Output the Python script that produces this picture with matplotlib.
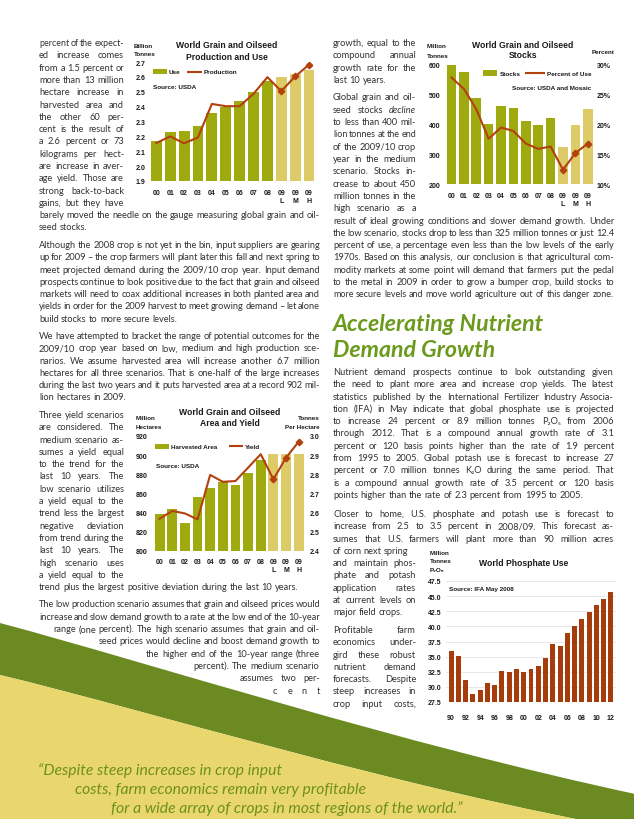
import numpy as np
import matplotlib
matplotlib.use("Agg")
import matplotlib.pyplot as plt
from matplotlib.font_manager import FontProperties
from matplotlib.patches import PathPatch, Rectangle
from matplotlib.path import Path

# ---------------- chart data ----------------
years12 = ['00', '01', '02', '03', '04', '05', '06', '07', '08', '09\nL', '09\nM', '09\nH']
use_vals = [2.166, 2.227, 2.238, 2.267, 2.355, 2.40, 2.436, 2.50, 2.57, 2.596, 2.62, 2.648]
prod_vals = [2.155, 2.20, 2.153, 2.193, 2.418, 2.403, 2.403, 2.486, 2.598, 2.504, 2.603, 2.682]
stocks_vals = [604, 578, 489, 402, 461, 454, 413, 399, 421, 325, 399, 451]
pct_use_vals = [27.9, 26.0, 22.6, 17.6, 19.5, 18.9, 16.8, 15.9, 16.3, 12.4, 15.2, 16.8]
area_vals = [839, 843.5, 829, 856, 865.5, 871.5, 869, 881, 894.5, 901.5, 901.5, 901.5]
yield_vals = [2.568, 2.609, 2.596, 2.565, 2.797, 2.761, 2.765, 2.835, 2.905, 2.774, 2.887, 2.97]
phos_years = ['90', '91', '92', '93', '94', '95', '96', '97', '98', '99', '00', '01',
              '02', '03', '04', '05', '06', '07', '08', '09', '10', '11', '12']
phos_vals = [35.88, 35.17, 31.12, 28.87, 29.47, 30.62, 30.35, 32.6, 32.54, 32.98, 32.43, 33.03,
             33.42, 34.79, 37.14, 36.8, 38.9, 40.1, 41.2, 42.4, 43.5, 44.6, 45.75]

# ---------------- page text ----------------
P1 = ["percent of the expect-", "ed increase comes", "from a 1.5 percent or", "more than 13 million",
      "hectare increase in", "harvested area and", "the other 60 per-", "cent is the result of",
      "a 2.6 percent or 73", "kilograms per hect-", "are increase in aver-", "age yield. Those are",
      "strong back-to-back", "gains, but they have",
      "barely moved the needle on the gauge measuring global grain and oil-", "seed stocks."]
P2 = ["Although the 2008 crop is not yet in the bin, input suppliers are gearing",
      "up for 2009 \u2013 the crop farmers will plant later this fall and next spring to",
      "meet projected demand during the 2009/10 crop year. Input demand",
      "prospects continue to look positive due to the fact that grain and oilseed",
      "markets will need to coax additional increases in both planted area and",
      "yields in order for the 2009 harvest to meet growing demand \u2013 let alone",
      "build stocks to more secure levels."]
P3 = ["We have attempted to bracket the range of potential outcomes for the",
      "2009/10 crop year based on low, medium and high production sce-",
      "narios. We assume harvested area will increase another 6.7 million",
      "hectares for all three scenarios. That is one-half of the large increases",
      "during the last two years and it puts harvested area at a record 902 mil-",
      "lion hectares in 2009."]
P4 = ["Three yield scenarios", "are considered. The", "medium scenario as-", "sumes a yield equal",
      "to the trend for the", "last 10 years. The", "low scenario utilizes", "a yield equal to the",
      "trend less the largest", "negative deviation", "from trend during the", "last 10 years. The",
      "high scenario uses", "a yield equal to the",
      "trend plus the largest positive deviation during the last 10 years."]
P5 = ["The low production scenario assumes that grain and oilseed prices would",
      "increase and slow demand growth to a rate at the low end of the 10-year",
      "range (one percent). The high scenario assumes that grain and oil-",
      "seed prices would decline and boost demand growth to",
      "the higher end of the 10-year range (three",
      "percent). The medium scenario",
      "assumes two per-",
      "c e n t"]
R1 = ["growth, equal to the", "compound annual", "growth rate for the", "last 10 years."]
R2 = ["Global grain and oil-", "seed stocks *decline*", "to less than 400 mil-", "lion tonnes at the end",
      "of the 2009/10 crop", "year in the medium", "scenario. Stocks in-", "crease to about 450",
      "million tonnes in the", "high scenario as a",
      "result of ideal growing conditions and slower demand growth. Under",
      "the low scenario, stocks drop to less than 325 million tonnes or just 12.4",
      "percent of use, a percentage even less than the low levels of the early",
      "1970s. Based on this analysis, our conclusion is that agricultural com-",
      "modity markets at some point will demand that farmers put the pedal",
      "to the metal in 2009 in order to grow a bumper crop, build stocks to",
      "more secure levels and move world agriculture out of this danger zone."]
HEADING = ["Accelerating Nutrient", "Demand Growth"]
R3 = ["Nutrient demand prospects continue to look outstanding given",
      "the need to plant more area and increase crop yields. The latest",
      "statistics published by the International Fertilizer Industry Associa-",
      "tion (IFA) in May indicate that global phosphate use is projected",
      "to increase 24 percent or 8.9 million tonnes P\u2082O\u2085 from 2006",
      "through 2012. That is a compound annual growth rate of 3.1",
      "percent or 120 basis points higher than the rate of 1.9 percent",
      "from 1995 to 2005. Global potash use is forecast to increase 27",
      "percent or 7.0 million tonnes K\u2082O during the same period. That",
      "is a compound annual growth rate of 3.5 percent or 120 basis",
      "points higher than the rate of 2.3 percent from 1995 to 2005."]
R4 = ["Closer to home, U.S. phosphate and potash use is forecast to",
      "increase from 2.5 to 3.5 percent in 2008/09. This forecast as-",
      "sumes that U.S. farmers will plant more than 90 million acres",
      "of corn next spring", "and maintain phos-", "phate and potash", "application rates",
      "at current levels on", "major field crops."]
R5 = ["Profitable farm", "economics under-", "gird these robust", "nutrient demand",
      "forecasts. Despite", "steep increases in", "crop input costs,"]
QUOTE = ["\u201cDespite steep increases in crop input",
         "costs, farm economics remain very profitable",
         "for a wide array of crops in most regions of the world.\u201d"]

# ---------------- style ----------------
W, H = 634, 820
OLIVE = '#9EAA0E'
KHAKI = '#DCCB66'
RUST = '#B3410E'
PHOS = '#A63B0B'
GREEN = '#6B8A22'
YELLOW = '#E9D76D'
HEADC = '#6C9A1D'
QUOTEC = '#6E901F'
TXT = '#333333'
INK = '#1a1a1a'

plt.rcParams['font.family'] = ['Liberation Sans', 'DejaVu Sans']
plt.rcParams['font.weight'] = 'bold'

fig = plt.figure(figsize=(W / 100, H / 100), dpi=100)
fig.patch.set_facecolor('white')
bg = fig.add_axes([0, 0, 1, 1], zorder=0)
bg.set_xlim(0, W)
bg.set_ylim(H, 0)
bg.axis('off')
R = fig.canvas.get_renderer()

BODY = ['Lato', 'DejaVu Sans']


def fp(size, style='normal', weight='normal', fam=BODY):
    return FontProperties(family=fam, size=size, style=style, weight=weight)


def tw(s, prop):
    return R.get_text_width_height_descent(s, prop, ismath=False)[0]


# ---------------- swoosh background ----------------
MV, C4, LT, CL = Path.MOVETO, Path.CURVE4, Path.LINETO, Path.CLOSEPOLY
top = [(0, 624), (150, 664), (400, 745), (640, 796)]
bot = [(0, 676), (150, 712), (400, 790), (640, 832)]
gverts = [top[0], top[1], top[2], top[3], (645, 796), (645, 832), bot[3], bot[2], bot[1], bot[0], (-5, 676), (-5, 624), top[0]]
gcodes = [MV, C4, C4, C4, LT, LT, LT, C4, C4, C4, LT, LT, CL]
bg.add_patch(PathPatch(Path(gverts, gcodes), facecolor=GREEN, edgecolor='none', zorder=0))
yverts = [bot[0], bot[1], bot[2], bot[3], (645, 832), (645, 840), (-5, 840), (-5, 676), bot[0]]
ycodes = [MV, C4, C4, C4, LT, LT, LT, LT, CL]
bg.add_patch(PathPatch(Path(yverts, ycodes), facecolor=YELLOW, edgecolor='none', zorder=0))

# ---------------- body text layout ----------------
LINE = 12.3
entries = []


def add(lines, y0, spans, modes):
    for i, ln in enumerate(lines):
        entries.append((ln, spans[i][0], spans[i][1], y0 + i * LINE, modes[i]))


LN, LF = (39, 124), (39, 320)
RN, RF = (333, 416), (333, 614)
add(P1, 43, [LN] * 14 + [LF] * 2, ['j'] * 15 + ['l'])
add(P2, 245, [LF] * 7, ['j'] * 6 + ['l'])
add(P3, 336, [LF] * 6, ['j'] * 5 + ['l'])
add(P4, 415, [LN] * 14 + [LF], ['j'] * 14 + ['l'])
starts5 = [39, 39, 53, 99, 146, 193, 240, 273]
add(P5, 604.5, [(s, 320) for s in starts5], ['j'] * 8)
add(R1, 43, [RN] * 4, ['j'] * 3 + ['l'])
add(R2, 97.5, [RN] * 10 + [RF] * 7, ['j'] * 16 + ['l'])
add(R3, 372, [RF] * 11, ['j'] * 10 + ['l'])
add(R4, 514, [RF] * 3 + [(333, 408)] + [RN] * 5, ['j'] * 8 + ['l'])
add(R5, 630, [RN] * 7, ['j'] * 7)

fits = []
for t, x0, x1, y, m in entries:
    if m == 'j' and len(t) > 45:
        fits.append(10 * (x1 - x0) / tw(t.replace('*', ''), fp(10)))
S = float(np.clip(np.median(fits) * 0.995, 5.6, 7.8))


def word_props(words, size):
    props, widths = [], []
    for w in words:
        it = w.startswith('*')
        p = fp(size, style='italic' if it else 'normal')
        props.append(p)
        widths.append(tw(w.strip('*'), p))
    return props, widths


for t, x0, x1, y, m in entries:
    words = t.split()
    size = S
    sp = tw('a a', fp(size)) - tw('aa', fp(size))
    props, widths = word_props(words, size)
    n = len(words)
    if m == 'j' and n > 1:
        gap = (x1 - x0 - sum(widths)) / (n - 1)
        if gap < 0.55 * sp:
            size = size * (x1 - x0 - (n - 1) * 0.6 * sp) / sum(widths)
            props, widths = word_props(words, size)
            gap = (x1 - x0 - sum(widths)) / (n - 1)
    else:
        gap = sp
        tot = sum(widths) + gap * (n - 1)
        if tot > x1 - x0:
            size = size * (x1 - x0 - (n - 1) * sp) / sum(widths)
            props, widths = word_props(words, size)
    x = x0
    for w, p, ww in zip(words, props, widths):
        bg.text(x, y + 3, w.strip('*'), fontproperties=p, ha='left', va='baseline', color=TXT, zorder=5)
        x += ww + gap

# heading
hp10 = fp(10, style='italic', weight='bold')
hs = 10 * 211 / tw(HEADING[0], hp10)
for i, ln in enumerate(HEADING):
    bg.text(333, 331 + 26 * i, ln, fontproperties=fp(hs, style='italic', weight='bold'),
            color=HEADC, ha='left', va='baseline', zorder=5)

# quote
qp10 = fp(10, style='italic')
qs = 10 * 245 / tw(QUOTE[0], qp10)
for ln, qx, qy in zip(QUOTE, [38, 75, 111], [775, 794, 813]):
    bg.text(qx, qy, ln, fontproperties=fp(qs, style='italic'), color=QUOTEC,
            ha='left', va='baseline', zorder=5)

# ---------------- charts ----------------
TICK = 5.0
LEG = 4.6
TITLE = 6.2
UNIT = 4.5


def chart_axes(l, r, t, b):
    ax = fig.add_axes([l / W, 1 - b / H, (r - l) / W, (b - t) / H], zorder=2)
    ax.set_facecolor('none')
    for s in ax.spines.values():
        s.set_visible(False)
    ax.tick_params(length=0, labelsize=TICK, colors=INK)
    return ax


def style_twin(axt, pad):
    for s in axt.spines.values():
        s.set_visible(False)
    axt.tick_params(length=0, labelsize=TICK, colors=INK, pad=pad)


def xlabels(ax, labels, pad):
    ax.set_xticks(np.arange(len(labels)))
    ax.set_xticklabels(labels)
    ax.tick_params(axis='x', pad=pad)
    for lab in ax.get_xticklabels():
        lab.set_linespacing(1.2)


def ctext(x, y, s, size, ha='left'):
    bg.text(x, y, s, fontsize=size, fontweight='bold', ha=ha, va='center', color=INK, zorder=6)


def title(x, y, s):
    bg.text(x, y, s, fontsize=TITLE, fontweight='bold', ha='center', va='center', color=INK, zorder=6)


def leg_bar(x, y, color):
    bg.add_patch(Rectangle((x, y - 2.6), 14, 5.2, facecolor=color, edgecolor='none', zorder=6))


def leg_line(x0, x1, y):
    bg.plot([x0, x1], [y, y], color=RUST, lw=1.5, zorder=6, solid_capstyle='butt')


bar_colors = [OLIVE] * 9 + [KHAKI] * 3
x12 = np.arange(12)

# Chart 1: production and use
ax1 = chart_axes(148, 316, 63, 182)
ax1.bar(x12, use_vals, width=0.78, color=bar_colors, zorder=1)
ax1.plot(x12, prod_vals, color=RUST, lw=1.5, zorder=3)
ax1.plot(x12[9:], prod_vals[9:], ls='none', marker='D', ms=3.3, color=RUST, zorder=4)
ax1.set_xlim(-0.6, 11.5)
ax1.set_ylim(1.9, 2.7)
yt = np.round(np.arange(1.9, 2.71, 0.1), 1)
ax1.set_yticks(yt)
ax1.set_yticklabels([f'{v:.1f}' for v in yt])
ax1.tick_params(axis='y', pad=2)
xlabels(ax1, years12, 5.5)
title(227, 46, 'World Grain and Oilseed')
title(227, 57, 'Production and Use')
ctext(134, 46, 'Billion', UNIT)
ctext(134, 55, 'Tonnes', UNIT)
leg_bar(153, 72.7, OLIVE)
ctext(169, 72.7, 'Use', LEG)
leg_line(187, 202, 72.7)
ctext(204, 72.7, 'Production', LEG)
ctext(153, 87.7, 'Source: USDA', LEG)

# Chart 2: stocks
ax2 = chart_axes(444, 594, 66, 185)
ax2.bar(x12, stocks_vals, width=0.78, color=bar_colors, zorder=1)
ax2.set_xlim(-0.6, 11.5)
ax2.set_ylim(200, 600)
ax2.set_yticks([200, 300, 400, 500, 600])
ax2.tick_params(axis='y', pad=2.5)
xlabels(ax2, years12, 5.5)
ax2b = ax2.twinx()
ax2b.set_zorder(3)
style_twin(ax2b, 2)
ax2b.set_ylim(10, 30)
ax2b.set_yticks([10, 15, 20, 25, 30])
ax2b.set_yticklabels(['10%', '15%', '20%', '25%', '30%'])
ax2b.plot(x12, pct_use_vals, color=RUST, lw=1.5, zorder=3)
ax2b.plot(x12[9:], pct_use_vals[9:], ls='none', marker='D', ms=3.3, color=RUST, zorder=4)
title(523, 45, 'World Grain and Oilseed')
title(523, 56, 'Stocks')
ctext(427, 47, 'Million', UNIT)
ctext(427, 56, 'Tonnes', UNIT)
ctext(614, 52, 'Percent', UNIT, ha='right')
leg_bar(483, 74, OLIVE)
ctext(500, 74, 'Stocks', LEG)
leg_line(525, 545, 74)
ctext(547, 74, 'Percent of Use', LEG)
ctext(591, 88, 'Source: USDA and Mosaic', LEG, ha='right')

# Chart 3: area and yield
ax3 = chart_axes(152, 305, 437, 552)
ax3.bar(x12, area_vals, width=0.78, color=bar_colors, zorder=1)
ax3.set_xlim(-0.6, 11.5)
ax3.set_ylim(800, 920)
ax3.set_yticks(np.arange(800, 921, 20))
ax3.tick_params(axis='y', pad=3)
xlabels(ax3, years12, 5)
ax3b = ax3.twinx()
ax3b.set_zorder(3)
style_twin(ax3b, 3.5)
ax3b.set_ylim(2.4, 3.0)
yt3 = np.round(np.arange(2.4, 3.01, 0.1), 1)
ax3b.set_yticks(yt3)
ax3b.set_yticklabels([f'{v:.1f}' for v in yt3])
ax3b.plot(x12, yield_vals, color=RUST, lw=1.5, zorder=3)
ax3b.plot(x12[9:], yield_vals[9:], ls='none', marker='D', ms=3.3, color=RUST, zorder=4)
title(230, 413, 'World Grain and Oilseed')
title(230, 424, 'Area and Yield')
ctext(136, 419, 'Million', UNIT)
ctext(136, 428, 'Hectares', UNIT)
ctext(320, 419, 'Tonnes', UNIT, ha='right')
ctext(320, 428, 'Per Hectare', UNIT, ha='right')
leg_bar(155, 447.3, OLIVE)
ctext(171, 447.3, 'Harvested Area', LEG)
leg_line(229, 243, 447.3)
ctext(245, 447.3, 'Yield', LEG)
ctext(156, 466.7, 'Source: USDA', LEG)

# Chart 4: phosphate use
ax4 = chart_axes(446, 616, 582, 703)
x23 = np.arange(len(phos_vals))
ax4.set_axisbelow(True)
ax4.yaxis.grid(True, color='#e4e4e4', lw=0.6)
ax4.bar(x23, phos_vals, width=0.68, color=PHOS, zorder=2)
ax4.set_xlim(-0.7, 22.7)
ax4.set_ylim(27.5, 47.5)
yt4 = np.arange(27.5, 47.6, 2.5)
ax4.set_yticks(yt4)
ax4.set_yticklabels([f'{v:.1f}' for v in yt4])
ax4.tick_params(axis='y', pad=3)
ax4.set_xticks(x23[::2])
ax4.set_xticklabels(phos_years[::2])
ax4.tick_params(axis='x', pad=9)
title(524, 564, 'World Phosphate Use')
ctext(430, 554, 'Million', UNIT)
ctext(430, 562, 'Tonnes', UNIT)
ctext(430, 571, 'P\u2082O\u2085', UNIT)
ctext(449, 590, 'Source: IFA May 2008', LEG)

fig.savefig('out.png', dpi=100, facecolor='white')
